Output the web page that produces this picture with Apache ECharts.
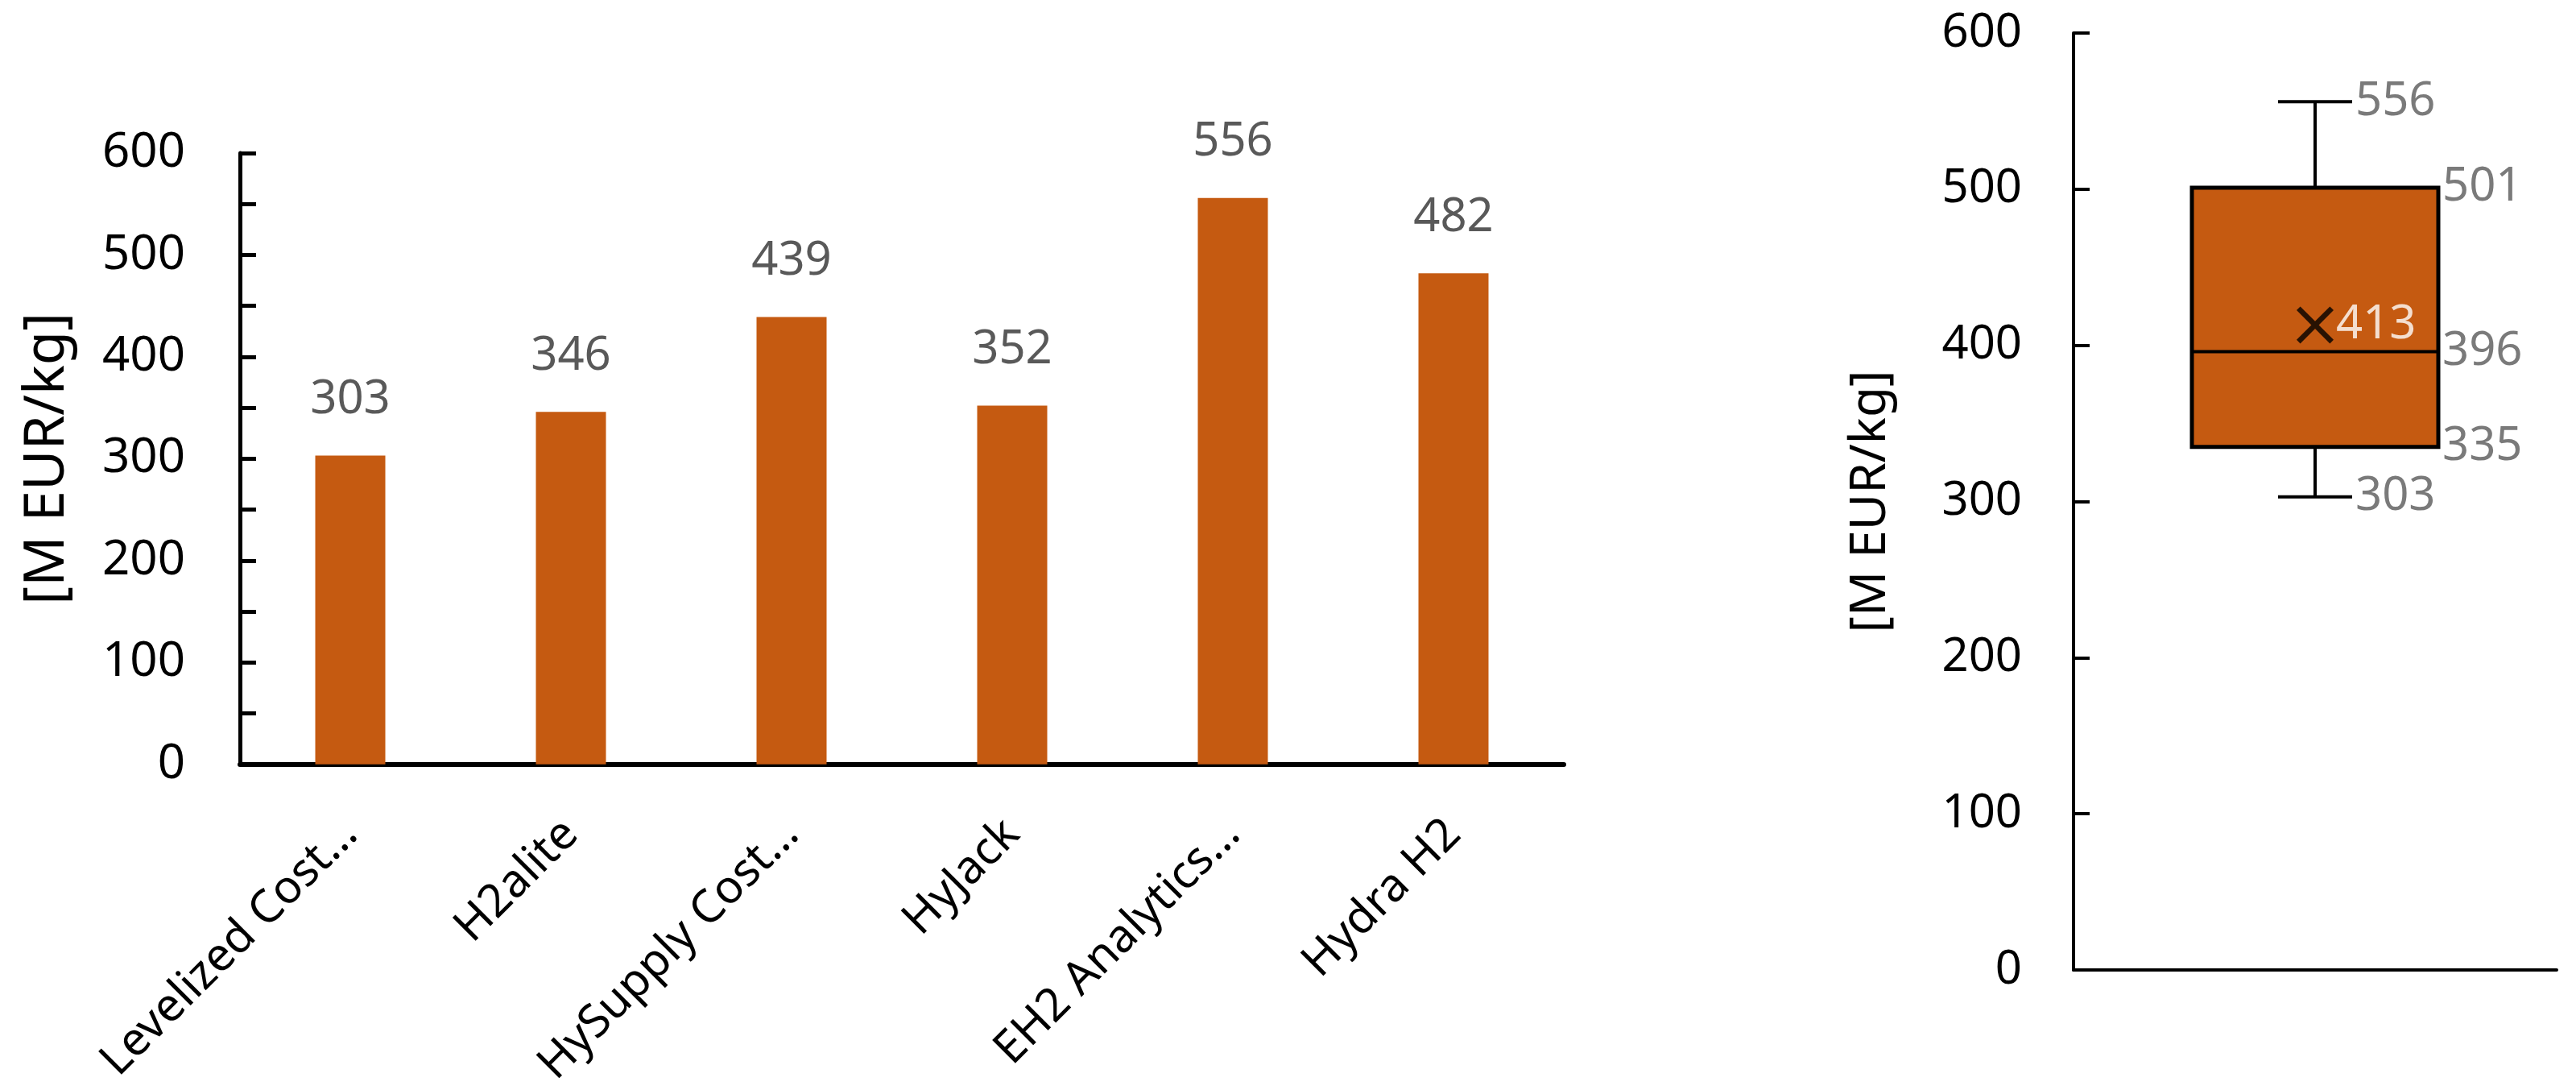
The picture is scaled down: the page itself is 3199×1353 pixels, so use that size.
<!DOCTYPE html>
<html>
<head>
<meta charset="utf-8">
<script src="https://cdn.jsdelivr.net/npm/echarts@6/dist/echarts.min.js"></script>
<style>
  html, body { margin: 0; padding: 0; background: #fff; }
  #chart { width: 3199px; height: 1353px; }
</style>
</head>
<body>
<div id="chart"></div>
<script>
// bar chart data
var categories = ['Levelized Cost…', 'H2alite', 'HySupply Cost…', 'HyJack', 'EH2 Analytics…', 'Hydra H2'];
var costs = [303, 346, 439, 352, 556, 482];

// box plot data: min, Q1, median, Q3, max
var boxStats = [303, 335, 396, 501, 556];
var meanCost = 413;
var boxCategory = ['All'];

var barColor = '#C55A11';
var labelGray = '#595959';
var fontName = 'Noto Sans';

var option = {
    animation: false,
    backgroundColor: '#fff',
    textStyle: { fontFamily: fontName },
    grid: [
        { left: 298, top: 190, width: 1644, height: 765 },   // bars
        { left: 2575, top: 41, width: 600, height: 1163 }    // box
    ],
    xAxis: [
        {
            gridIndex: 0,
            type: 'category',
            data: categories,
            axisLine: { lineStyle: { color: '#000', width: 6 } },
            axisTick: { show: false },
            axisLabel: {
                rotate: 45,
                margin: 78,
                fontSize: 57,
                color: '#000',
                fontFamily: fontName
            }
        },
        {
            gridIndex: 1,
            type: 'category',
            data: boxCategory,
            axisLine: { lineStyle: { color: '#000', width: 4 } },
            axisTick: { show: false },
            axisLabel: { show: false }
        }
    ],
    yAxis: [
        {
            gridIndex: 0,
            type: 'value',
            min: 0,
            max: 600,
            interval: 100,
            name: '[M EUR/kg]',
            nameLocation: 'middle',
            nameGap: 204,
            nameTextStyle: { fontSize: 69, color: '#000' },
            axisLine: { show: true, lineStyle: { color: '#000', width: 5 } },
            axisTick: { show: true, inside: true, length: 20, lineStyle: { color: '#000', width: 5 } },
            minorTick: { show: true, splitNumber: 2, length: 20, lineStyle: { color: '#000', width: 5 } },
            splitLine: { show: false },
            axisLabel: { fontSize: 60, color: '#000', margin: 68 }
        },
        {
            gridIndex: 1,
            type: 'value',
            min: 0,
            max: 600,
            interval: 100,
            name: '[M EUR/kg]',
            nameLocation: 'middle',
            nameGap: 221,
            nameTextStyle: { fontSize: 62, color: '#000' },
            axisLine: { show: true, lineStyle: { color: '#000', width: 4 } },
            axisTick: { show: true, inside: true, length: 20, lineStyle: { color: '#000', width: 4 } },
            splitLine: { show: false },
            axisLabel: { fontSize: 58, color: '#000', margin: 64 }
        }
    ],
    series: [
        {
            type: 'bar',
            xAxisIndex: 0,
            yAxisIndex: 0,
            data: costs,
            barWidth: 87,
            itemStyle: { color: barColor },
            label: {
                show: true,
                position: 'top',
                distance: 40,
                fontSize: 58,
                color: labelGray
            }
        },
        {
            // box with short whisker caps
            type: 'custom',
            xAxisIndex: 1,
            yAxisIndex: 1,
            data: [[0].concat(boxStats)],
            encode: { x: 0, y: [1, 2, 3, 4, 5] },
            renderItem: function (params, api) {
                var x = api.value(0);
                var pMin = api.coord([x, api.value(1)]);
                var pQ1 = api.coord([x, api.value(2)]);
                var pMed = api.coord([x, api.value(3)]);
                var pQ3 = api.coord([x, api.value(4)]);
                var pMax = api.coord([x, api.value(5)]);
                var halfBox = 153;
                var halfCap = 46;
                var cx = pMed[0];
                var line = { stroke: '#000', lineWidth: 4 };
                return {
                    type: 'group',
                    children: [
                        { type: 'line', shape: { x1: cx, y1: pMax[1], x2: cx, y2: pQ3[1] }, style: line },
                        { type: 'line', shape: { x1: cx, y1: pQ1[1], x2: cx, y2: pMin[1] }, style: line },
                        { type: 'line', shape: { x1: cx - halfCap, y1: pMax[1], x2: cx + halfCap, y2: pMax[1] }, style: line },
                        { type: 'line', shape: { x1: cx - halfCap, y1: pMin[1], x2: cx + halfCap, y2: pMin[1] }, style: line },
                        {
                            type: 'rect',
                            shape: { x: cx - halfBox, y: pQ3[1], width: halfBox * 2, height: pQ1[1] - pQ3[1] },
                            style: { fill: barColor, stroke: '#000', lineWidth: 5 }
                        },
                        { type: 'line', shape: { x1: cx - halfBox, y1: pMed[1], x2: cx + halfBox, y2: pMed[1] }, style: line }
                    ]
                };
            }
        },
        {
            // whisker labels
            type: 'scatter',
            xAxisIndex: 1,
            yAxisIndex: 1,
            symbolSize: 0,
            data: [[0, boxStats[0]], [0, boxStats[4]]],
            label: {
                show: true,
                position: 'right',
                distance: 50,
                fontSize: 58,
                color: labelGray,
                formatter: function (p) { return p.value[1]; }
            }
        },
        {
            // box labels
            type: 'scatter',
            xAxisIndex: 1,
            yAxisIndex: 1,
            symbolSize: 0,
            data: [[0, boxStats[1]], [0, boxStats[2]], [0, boxStats[3]]],
            label: {
                show: true,
                position: 'right',
                distance: 158,
                fontSize: 58,
                color: labelGray,
                formatter: function (p) { return p.value[1]; }
            }
        },
        {
            // mean marker
            type: 'scatter',
            xAxisIndex: 1,
            yAxisIndex: 1,
            symbol: 'path://M1,0L5,4L9,0L10,1L6,5L10,9L9,10L5,6L1,10L0,9L4,5L0,1Z',
            symbolSize: 46,
            itemStyle: { color: '#000' },
            data: [[0, meanCost]],
            label: {
                show: true,
                position: 'right',
                distance: 3,
                fontSize: 58,
                color: '#fff',
                formatter: function (p) { return p.value[1]; }
            }
        }
    ]
};

var myChart = echarts.init(document.getElementById('chart'));
myChart.setOption(option);
</script>
</body>
</html>
